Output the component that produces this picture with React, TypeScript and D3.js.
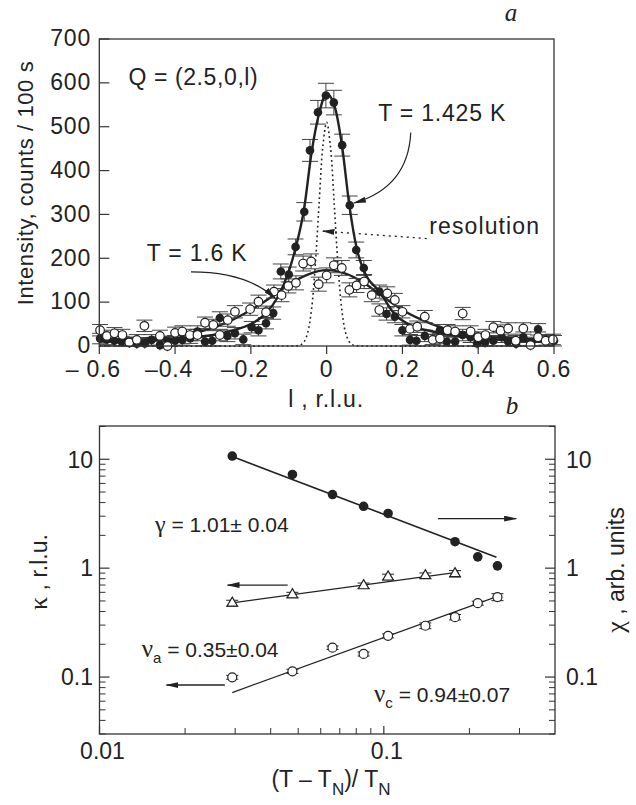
import * as d3 from "d3";

// ---------- panel a : l-scans ----------
const lTicks = [-0.6, -0.4, -0.2, 0, 0.2, 0.4, 0.6];
const lTickLabels = ["– 0.6", "–0.4", "–0.2", "0", "0.2", "0.4", "0.6"];
const intensityTicks = [0, 100, 200, 300, 400, 500, 600, 700];

// [l, intensity, error]
const scan1425: [number, number, number][] = [
  [-0.598, 17, 12], [-0.58, 15, 12], [-0.56, 12, 12], [-0.541, 10, 12], [-0.52, 8, 12],
  [-0.501, 5, 12], [-0.48, 6, 12], [-0.462, 14, 12], [-0.44, 2, 12], [-0.42, 10, 12],
  [-0.4, 12, 12], [-0.381, 14, 12], [-0.36, 18, 12], [-0.341, 33, 13], [-0.321, 10, 12],
  [-0.302, 12, 12], [-0.282, 64, 14], [-0.262, 23, 13], [-0.242, 29, 13], [-0.22, 15, 12],
  [-0.198, 43, 13], [-0.18, 36, 13], [-0.16, 52, 13], [-0.141, 75, 14], [-0.121, 170, 17],
  [-0.1, 163, 17], [-0.082, 226, 18], [-0.059, 306, 21], [-0.044, 446, 25], [-0.023, 533, 27],
  [-0.002, 571, 28], [0.019, 555, 28], [0.041, 458, 25], [0.061, 321, 21], [0.078, 219, 18],
  [0.098, 178, 17], [0.139, 124, 15], [0.158, 73, 14], [0.18, 67, 14], [0.2, 36, 13],
  [0.22, 14, 12], [0.237, 12, 12], [0.259, 23, 13], [0.28, 15, 12], [0.299, 36, 13],
  [0.317, 10, 12], [0.339, 10, 12], [0.359, 25, 13], [0.38, 20, 12], [0.397, 6, 12],
  [0.418, 8, 12], [0.44, 12, 12], [0.462, 20, 12], [0.479, 10, 12], [0.5, 5, 12],
  [0.519, 20, 12], [0.54, 8, 12], [0.558, 38, 13], [0.58, 14, 12], [0.6, 12, 12],
];

const scan16: [number, number, number][] = [
  [-0.598, 36, 13], [-0.58, 23, 13], [-0.56, 29, 13], [-0.539, 25, 13], [-0.521, 8, 12],
  [-0.501, 14, 12], [-0.481, 46, 13], [-0.44, 23, 13], [-0.42, 0, 12], [-0.4, 30, 13],
  [-0.381, 33, 13], [-0.361, 25, 13], [-0.341, 25, 13], [-0.321, 53, 13], [-0.299, 48, 13],
  [-0.282, 25, 13], [-0.261, 59, 14], [-0.242, 78, 14], [-0.202, 84, 14], [-0.18, 101, 15],
  [-0.16, 77, 14], [-0.139, 124, 15], [-0.119, 116, 15], [-0.101, 137, 16], [-0.081, 144, 16],
  [-0.062, 188, 17], [-0.041, 193, 17], [-0.021, 141, 16], [0, 161, 17], [0.019, 184, 17],
  [0.04, 178, 17], [0.06, 128, 16], [0.079, 138, 16], [0.099, 147, 16], [0.119, 116, 15],
  [0.139, 82, 14], [0.16, 120, 15], [0.18, 105, 15], [0.2, 78, 14], [0.22, 39, 13],
  [0.239, 44, 13], [0.259, 67, 14], [0.28, 14, 12], [0.299, 17, 12], [0.319, 36, 13],
  [0.339, 33, 13], [0.359, 74, 14], [0.38, 33, 13], [0.4, 20, 12], [0.419, 25, 13],
  [0.44, 43, 13], [0.459, 35, 13], [0.479, 40, 13], [0.499, 12, 12], [0.519, 40, 13],
  [0.538, 2, 12], [0.558, 20, 12], [0.578, 12, 12], [0.597, 15, 12],
];

// fitted curves
const fit1425: [number, number][] = [
  [-0.6, 10], [-0.5, 12], [-0.4, 17], [-0.3, 25], [-0.25, 35], [-0.2, 50], [-0.16, 75],
  [-0.13, 110], [-0.1, 170], [-0.08, 230], [-0.06, 310], [-0.04, 440], [-0.02, 530], [0, 575],
  [0.02, 550], [0.04, 460], [0.06, 320], [0.08, 220], [0.1, 168], [0.14, 124], [0.18, 72],
  [0.22, 48], [0.28, 33], [0.4, 18], [0.5, 12], [0.6, 10],
];
const fit16: [number, number][] = [
  [-0.6, 14], [-0.5, 17], [-0.4, 23], [-0.32, 36], [-0.26, 55], [-0.2, 82], [-0.14, 115],
  [-0.1, 140], [-0.05, 163], [0, 173], [0.05, 165], [0.1, 143], [0.14, 118], [0.2, 82],
  [0.25, 60], [0.3, 43], [0.4, 25], [0.5, 17], [0.6, 14],
];
const resolutionCurve: [number, number][] = [
  [-0.6, 0], [-0.1, 0], [-0.08, 0.4], [-0.07, 2], [-0.06, 9], [-0.05, 30], [-0.04, 83],
  [-0.03, 184], [-0.02, 324], [-0.01, 455], [0, 510], [0.01, 455], [0.02, 324], [0.03, 184],
  [0.04, 83], [0.05, 30], [0.06, 9], [0.07, 2], [0.08, 0.4], [0.1, 0], [0.6, 0],
];

// ---------- panel b : critical scaling ----------
const reducedT = [0.0293, 0.0477, 0.066, 0.0849, 0.1035, 0.14, 0.178, 0.214, 0.251];
const chi = [10.7, 7.25, 4.74, 3.7, 3.18, null, 1.75, 1.27, 1.05];
const kappaA = [0.477, 0.57, null, 0.69, 0.83, 0.853, 0.89, null, null];
const kappaAErr = [0.03, 0.03, null, 0.04, 0.05, 0.05, 0.06, null, null];
const kappaC = [0.0995, 0.113, 0.186, 0.163, 0.239, 0.296, 0.355, 0.477, 0.543];
const kappaCErr = [0.004, 0.005, 0.007, 0.007, 0.01, 0.018, 0.02, 0.02, 0.04];
const fitChi: [number, number][] = [[0.0293, 10.6], [0.249, 1.26]];
const fitKappaA: [number, number][] = [[0.0293, 0.48], [0.183, 0.92]];
const fitKappaC: [number, number][] = [[0.0293, 0.072], [0.251, 0.55]];
const logMajor = [0.1, 1, 10];
const logMinor = [0.03, 0.04, 0.05, 0.06, 0.07, 0.08, 0.09, 0.2, 0.3, 0.4, 0.5, 0.6, 0.7, 0.8, 0.9, 2, 3, 4, 5, 6, 7, 8, 9, 20];
const tMajor = [0.01, 0.1];
const tMinor = [0.02, 0.03, 0.04, 0.05, 0.06, 0.07, 0.08, 0.09, 0.2, 0.3];

const INK = "#222";
const SANS = "'Liberation Sans', Arial, Helvetica, sans-serif";
const SERIF = "'Liberation Serif', 'Times New Roman', serif";

export default function App() {
  const xA = d3.scaleLinear().domain([-0.6, 0.6]).range([99.3, 554]);
  const yA = d3.scaleLinear().domain([0, 700]).range([346, 39]);
  const xB = d3.scaleLog().domain([0.01, 0.4]).range([99.5, 555]);
  const yB = d3.scaleLog().domain([0.03, 20.2]).range([734, 426]);

  const lineA = d3.line<[number, number]>().x((d) => xA(d[0])).y((d) => yA(d[1]));
  const fitLine = lineA.curve(d3.curveMonotoneX);
  const resLine = d3
    .line<[number, number]>()
    .x((d) => xA(d[0]))
    .y((d) => yA(d[1]))
    .curve(d3.curveCatmullRom);
  const lineB = d3.line<[number, number]>().x((d) => xB(d[0])).y((d) => yB(d[1]));

  const triangle = d3.symbol(d3.symbolTriangle, 48)() as string;

  const errA = (d: [number, number, number], key: string) => (
    <g key={key} stroke="#444" strokeWidth={1}>
      <line x1={xA(d[0])} x2={xA(d[0])} y1={yA(d[1] - d[2])} y2={yA(d[1] + d[2])} />
      <line x1={xA(d[0]) - 8} x2={xA(d[0]) + 8} y1={yA(d[1] + d[2])} y2={yA(d[1] + d[2])} />
      <line x1={xA(d[0]) - 8} x2={xA(d[0]) + 8} y1={yA(Math.max(0, d[1] - d[2]))} y2={yA(Math.max(0, d[1] - d[2]))} />
    </g>
  );

  // curved annotation arrows of panel a, in data coordinates
  const quad = (p0: number[], c: number[], p1: number[]) =>
    `M${xA(p0[0])},${yA(p0[1])}Q${xA(c[0])},${yA(c[1])} ${xA(p1[0])},${yA(p1[1])}`;

  const errB = (x: number, y: number, e: number, key: string) => (
    <g key={key} stroke={INK} strokeWidth={1}>
      <line x1={xB(x)} x2={xB(x)} y1={yB(y - e)} y2={yB(y + e)} />
      <line x1={xB(x) - 6} x2={xB(x) + 6} y1={yB(y + e)} y2={yB(y + e)} />
      <line x1={xB(x) - 6} x2={xB(x) + 6} y1={yB(y - e)} y2={yB(y - e)} />
    </g>
  );

  return (
    <svg
      width={636}
      height={805}
      style={{ position: "absolute", left: 0, top: 0, background: "#fff" }}
      fontFamily={SANS}
    >
      <defs>
        <marker
          id="head"
          viewBox="0 0 13 6"
          refX={12}
          refY={3}
          markerWidth={13}
          markerHeight={6}
          markerUnits="userSpaceOnUse"
          orient="auto"
        >
          <path d="M0,0L13,3L0,6Z" fill={INK} />
        </marker>
      </defs>

      {/* ===== panel a ===== */}
      <text x={511} y={21} fontFamily={SERIF} fontStyle="italic" fontSize={25} textAnchor="middle" fill={INK}>
        a
      </text>

      {/* fits */}
      <path d={resLine(resolutionCurve) ?? ""} fill="none" stroke={INK} strokeWidth={1.6} strokeDasharray="1.8,3" />
      <path d={fitLine(fit16) ?? ""} fill="none" stroke={INK} strokeWidth={2.4} />

      {/* error bars and markers */}
      {scan1425.map((d, i) => errA(d, "ef" + i))}
      {scan16.map((d, i) => errA(d, "eo" + i))}
      {scan1425.map((d, i) => (
        <circle key={"f" + i} cx={xA(d[0])} cy={yA(d[1])} r={4.3} fill={INK} />
      ))}
      <path d={fitLine(fit1425) ?? ""} fill="none" stroke={INK} strokeWidth={2.4} />
      {scan16.map((d, i) => (
        <circle key={"o" + i} cx={xA(d[0])} cy={yA(d[1])} r={4.3} fill="#fff" stroke={INK} strokeWidth={1.2} />
      ))}

      {/* annotations */}
      <text x={xA(-0.523)} y={yA(595)} fontSize={23} letterSpacing={0.6} fill={INK}>
        Q = (2.5,0,l)
      </text>
      <text x={xA(0.136)} y={yA(513)} fontSize={23} letterSpacing={0.8} fill={INK}>
        T = 1.425 K
      </text>
      <text x={xA(0.271)} y={yA(255)} fontSize={23} letterSpacing={1.1} fill={INK}>
        resolution
      </text>
      <text x={xA(-0.475)} y={yA(194)} fontSize={23} letterSpacing={0.8} fill={INK}>
        T = 1.6 K
      </text>
      <path
        d={quad([0.222, 487], [0.215, 362], [0.072, 326])}
        fill="none"
        stroke={INK}
        strokeWidth={1.2}
        markerEnd="url(#head)"
      />
      <path
        d={quad([-0.358, 169], [-0.211, 169], [-0.136, 109])}
        fill="none"
        stroke={INK}
        strokeWidth={1.2}
        markerEnd="url(#head)"
      />
      <path
        d={lineA([[0.264, 245], [-0.011, 262]]) ?? ""}
        fill="none"
        stroke={INK}
        strokeWidth={1.3}
        strokeDasharray="2,4"
        markerEnd="url(#head)"
      />

      {/* frame and axes */}
      <rect x={99.3} y={39} width={554 - 99.3} height={346 - 39} fill="none" stroke="#333" strokeWidth={1.3} />
      {intensityTicks.map((t) => (
        <g key={"yt" + t}>
          <line x1={99.3} x2={109.3} y1={yA(t)} y2={yA(t)} stroke="#333" strokeWidth={1.2} />
          <text x={91} y={yA(t) - 1} dy="0.36em" textAnchor="end" fontSize={23} letterSpacing={0.8} fill={INK}>
            {t}
          </text>
        </g>
      ))}
      {lTicks.map((t, i) => (
        <g key={"xt" + t}>
          <line x1={xA(t)} x2={xA(t)} y1={346} y2={354} stroke="#333" strokeWidth={1.2} />
          <text x={xA(t) - (t < 0 ? 6 : 0)} y={377} textAnchor="middle" fontSize={23} letterSpacing={0.8} fill={INK}>
            {lTickLabels[i]}
          </text>
        </g>
      ))}
      <text x={326} y={407} textAnchor="middle" fontSize={23} letterSpacing={0.8} fill={INK}>
        l , r.l.u.
      </text>
      <text transform="translate(33,183) rotate(-90)" textAnchor="middle" fontSize={22} letterSpacing={0.6} fill={INK}>
        Intensity, counts / 100 s
      </text>

      {/* ===== panel b ===== */}
      <text x={512} y={414} fontFamily={SERIF} fontStyle="italic" fontSize={25} textAnchor="middle" fill={INK}>
        b
      </text>

      <path d={lineB(fitChi) ?? ""} stroke={INK} strokeWidth={1.6} fill="none" />
      <path d={lineB(fitKappaA) ?? ""} stroke={INK} strokeWidth={1.2} fill="none" />
      <path d={lineB(fitKappaC) ?? ""} stroke={INK} strokeWidth={1.2} fill="none" />

      {reducedT.map((t, i) =>
        chi[i] == null ? null : <circle key={"chi" + i} cx={xB(t)} cy={yB(chi[i] as number)} r={4.8} fill={INK} />
      )}
      {reducedT.map((t, i) =>
        kappaA[i] == null ? null : (
          <g key={"ka" + i}>
            {errB(t, kappaA[i] as number, kappaAErr[i] as number, "kae" + i)}
            <path
              d={triangle}
              transform={`translate(${xB(t)},${yB(kappaA[i] as number)})`}
              fill="#fff"
              stroke={INK}
              strokeWidth={1.2}
            />
          </g>
        )
      )}
      {reducedT.map((t, i) => (
        <g key={"kc" + i}>
          {errB(t, kappaC[i], kappaCErr[i], "kce" + i)}
          <circle cx={xB(t)} cy={yB(kappaC[i])} r={4.5} fill="#fff" stroke={INK} strokeWidth={1.2} />
        </g>
      ))}

      {/* arrows pointing to the relevant axis */}
      <path d={lineB([[0.155, 2.85], [0.292, 2.85]]) ?? ""} stroke={INK} strokeWidth={1.3} markerEnd="url(#head)" />
      <path d={lineB([[0.0459, 0.7], [0.0282, 0.7]]) ?? ""} stroke={INK} strokeWidth={1.3} markerEnd="url(#head)" />
      <path d={lineB([[0.0276, 0.0845], [0.0172, 0.0845]]) ?? ""} stroke={INK} strokeWidth={1.3} markerEnd="url(#head)" />

      <text x={xB(0.01567)} y={yB(2.16)} fontSize={21} fill={INK}>
        <tspan fontFamily={SERIF} fontSize={24}>γ</tspan> = 1.01± 0.04
      </text>
      <text x={xB(0.01407)} y={yB(0.154)} fontSize={21} fill={INK}>
        <tspan fontFamily={SERIF} fontSize={25}>ν</tspan>
        <tspan fontSize={15} dy={6}>a</tspan>
        <tspan dy={-6}> = 0.35±0.04</tspan>
      </text>
      <text x={xB(0.0924)} y={yB(0.0594)} fontSize={21} fill={INK}>
        <tspan fontFamily={SERIF} fontSize={25}>ν</tspan>
        <tspan fontSize={15} dy={6}>c</tspan>
        <tspan dy={-6}> = 0.94±0.07</tspan>
      </text>

      {/* frame and log axes */}
      <rect x={99.5} y={426} width={555 - 99.5} height={734 - 426} fill="none" stroke="#333" strokeWidth={1.3} />
      {logMajor.map((v) => (
        <g key={"lm" + v}>
          <line x1={99.5} x2={109.5} y1={yB(v)} y2={yB(v)} stroke="#333" strokeWidth={1.2} />
          <line x1={555} x2={545} y1={yB(v)} y2={yB(v)} stroke="#333" strokeWidth={1.2} />
          <text x={93} y={yB(v)} dy="0.36em" textAnchor="end" fontSize={23} fill={INK}>
            {v}
          </text>
          <text x={566} y={yB(v)} dy="0.36em" textAnchor="start" fontSize={23} fill={INK}>
            {v}
          </text>
        </g>
      ))}
      {logMinor.map((v) => (
        <g key={"ln" + v} stroke="#333" strokeWidth={1}>
          <line x1={99.5} x2={105.5} y1={yB(v)} y2={yB(v)} />
          <line x1={555} x2={549} y1={yB(v)} y2={yB(v)} />
        </g>
      ))}
      {tMajor.map((v) => (
        <g key={"tm" + v}>
          <line x1={xB(v)} x2={xB(v)} y1={734} y2={726} stroke="#333" strokeWidth={1.2} />
          <text x={xB(v) + 3} y={759} textAnchor="middle" fontSize={23} fill={INK}>
            {v}
          </text>
        </g>
      ))}
      {tMinor.map((v) => (
        <line key={"tn" + v} x1={xB(v)} x2={xB(v)} y1={734} y2={728} stroke="#333" strokeWidth={1} />
      ))}

      <text x={331} y={787} textAnchor="middle" fontSize={23} fill={INK}>
        (T – T<tspan fontSize={17} dy={8}>N</tspan>
        <tspan dy={-8}>)/ T</tspan>
        <tspan fontSize={17} dy={8}>N</tspan>
      </text>
      <text transform="translate(47,572) rotate(-90)" textAnchor="middle" fontSize={23} fill={INK}>
        <tspan fontFamily={SERIF} fontSize={26}>κ</tspan> , r.l.u.
      </text>
      <text transform="translate(624,570) rotate(-90)" textAnchor="middle" fontSize={23} fill={INK}>
        <tspan fontFamily={SERIF} fontSize={26}>χ</tspan> , arb. units
      </text>
    </svg>
  );
}
